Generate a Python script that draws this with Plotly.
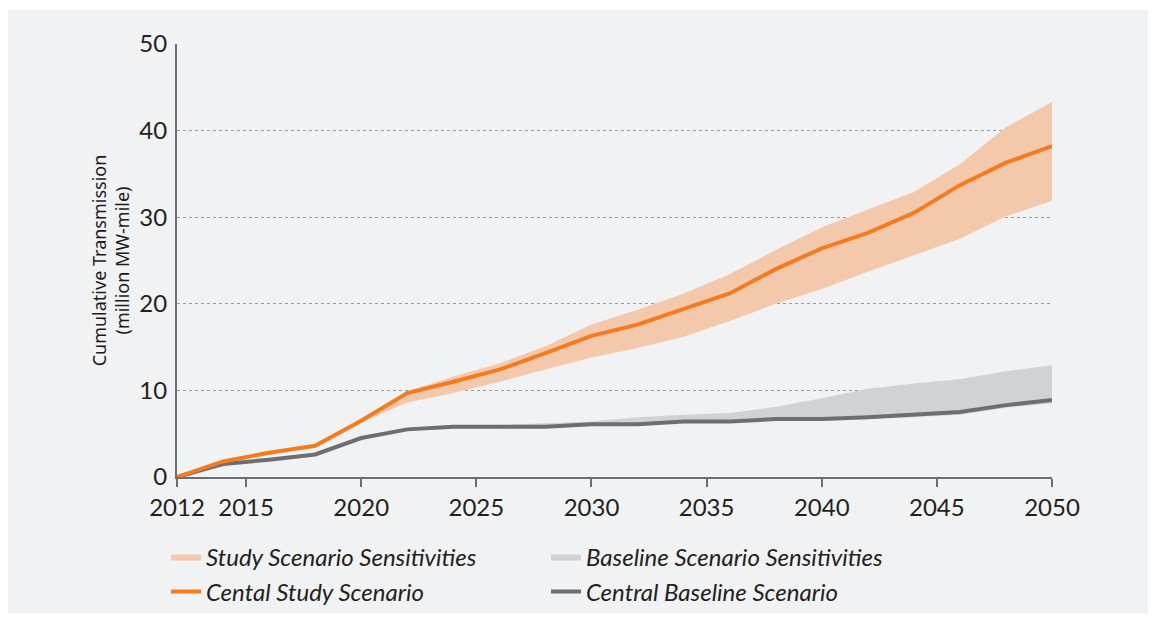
import plotly.graph_objects as go

years = list(range(2012, 2051, 2))
study_central = [0, 1.8, 2.8, 3.6, 6.5, 9.7, 11.0, 12.4, 14.3, 16.3, 17.6, 19.4, 21.2, 24.0, 26.4, 28.2, 30.5, 33.7, 36.3, 38.2]
study_upper = [0, 1.8, 2.8, 3.6, 6.6, 9.9, 11.6, 13.1, 15.1, 17.6, 19.3, 21.2, 23.4, 26.2, 28.8, 30.9, 32.9, 36.1, 40.4, 43.3]
study_lower = [0, 1.7, 2.7, 3.5, 6.3, 8.6, 9.7, 11.0, 12.4, 13.8, 14.9, 16.2, 18.0, 20.0, 21.7, 23.7, 25.6, 27.5, 30.1, 31.9]
base_central = [0, 1.5, 2.0, 2.6, 4.5, 5.5, 5.8, 5.8, 5.8, 6.1, 6.1, 6.4, 6.4, 6.7, 6.7, 6.9, 7.2, 7.5, 8.3, 8.9]
base_upper = [0, 1.5, 2.0, 2.6, 4.5, 5.6, 5.9, 6.0, 6.2, 6.4, 6.9, 7.2, 7.4, 8.1, 9.1, 10.2, 10.8, 11.3, 12.2, 12.9]
base_lower = [0, 1.4, 1.9, 2.5, 4.4, 5.4, 5.7, 5.7, 5.7, 6.0, 6.0, 6.3, 6.3, 6.5, 6.5, 6.7, 6.9, 7.2, 8.0, 8.5]

x_ticks = [2012, 2015, 2020, 2025, 2030, 2035, 2040, 2045, 2050]
y_ticks = [0, 10, 20, 30, 40, 50]

ORANGE = "#f47b20"
ORANGE_FILL = "#f4c9ab"
GRAY = "#6d6e71"
GRAY_FILL = "#d1d2d5"
BG = "#f1f2f4"
TXT = "#231f20"
FONT = "Lato"

fig = go.Figure()

# Baseline band
fig.add_trace(go.Scatter(x=years, y=base_lower, mode="lines", line=dict(width=0),
                         showlegend=False, hoverinfo="skip"))
fig.add_trace(go.Scatter(x=years, y=base_upper, mode="lines", line=dict(width=0),
                         fill="tonexty", fillcolor=GRAY_FILL,
                         name="Baseline Scenario Sensitivities", legend="legend", legendrank=2))
# Study band
fig.add_trace(go.Scatter(x=years, y=study_lower, mode="lines", line=dict(width=0),
                         showlegend=False, hoverinfo="skip"))
fig.add_trace(go.Scatter(x=years, y=study_upper, mode="lines", line=dict(width=0),
                         fill="tonexty", fillcolor=ORANGE_FILL,
                         name="Study Scenario Sensitivities", legend="legend", legendrank=1))
# Central lines
fig.add_trace(go.Scatter(x=years, y=base_central, mode="lines", line=dict(color=GRAY, width=4),
                         name="Central Baseline Scenario", legend="legend2", legendrank=2))
fig.add_trace(go.Scatter(x=years, y=study_central, mode="lines", line=dict(color=ORANGE, width=4),
                         name="Cental Study Scenario", legend="legend2", legendrank=1))

OFF = 8  # page body margin
W, H = 1156 - OFF, 619 - OFF
L, R, T, B = 177 - OFF, 1052 - OFF, 44 - OFF, 477 - OFF
pw, ph = R - L, B - T

def px_x(p):
    return (p - OFF - L) / pw

def px_y(p):
    return (B - (p - OFF)) / ph

fig.add_shape(type="rect", xref="paper", yref="paper",
              x0=px_x(7), x1=px_x(1149), y0=px_y(613), y1=px_y(10),
              fillcolor=BG, line=dict(width=0), layer="below")

legend_common = dict(orientation="h", xanchor="left", yanchor="middle",
                     entrywidth=335, entrywidthmode="pixels",
                     font=dict(family=FONT, size=24, color=TXT, style="italic"),
                     bgcolor="rgba(0,0,0,0)", itemwidth=30, traceorder="normal")

fig.update_layout(
    width=W, height=H,
    margin=dict(l=L, r=W - R, t=T, b=H - B, autoexpand=False),
    paper_bgcolor="white",
    plot_bgcolor="rgba(0,0,0,0)",
    font=dict(family=FONT, color=TXT),
    legend=dict(x=px_x(166), y=px_y(557), **legend_common),
    legend2=dict(x=px_x(166), y=px_y(592), **legend_common),
    xaxis=dict(range=[2012, 2050], tickvals=x_ticks, ticktext=[str(v) for v in x_ticks],
               showgrid=False, zeroline=False, showline=True, linecolor=GRAY, linewidth=2,
               ticks="outside", ticklen=8, tickwidth=2, tickcolor=GRAY,
               tickfont=dict(family=FONT, size=24, color=TXT), automargin=False),
    yaxis=dict(range=[0, 50], tickvals=y_ticks, showgrid=True, gridcolor="#9b9b9b",
               griddash="dot", gridwidth=1, zeroline=False, showline=True,
               linecolor=GRAY, linewidth=2, ticks="", ticklabelstandoff=3,
               tickfont=dict(family=FONT, size=24, color=TXT), automargin=False,
               title=dict(text="Cumulative Transmission<br>(million MW-mile)",
                          font=dict(family="Noto Sans", size=18, color="#1a1a1a"),
                          standoff=5)),
)

fig.write_html("out.html")
